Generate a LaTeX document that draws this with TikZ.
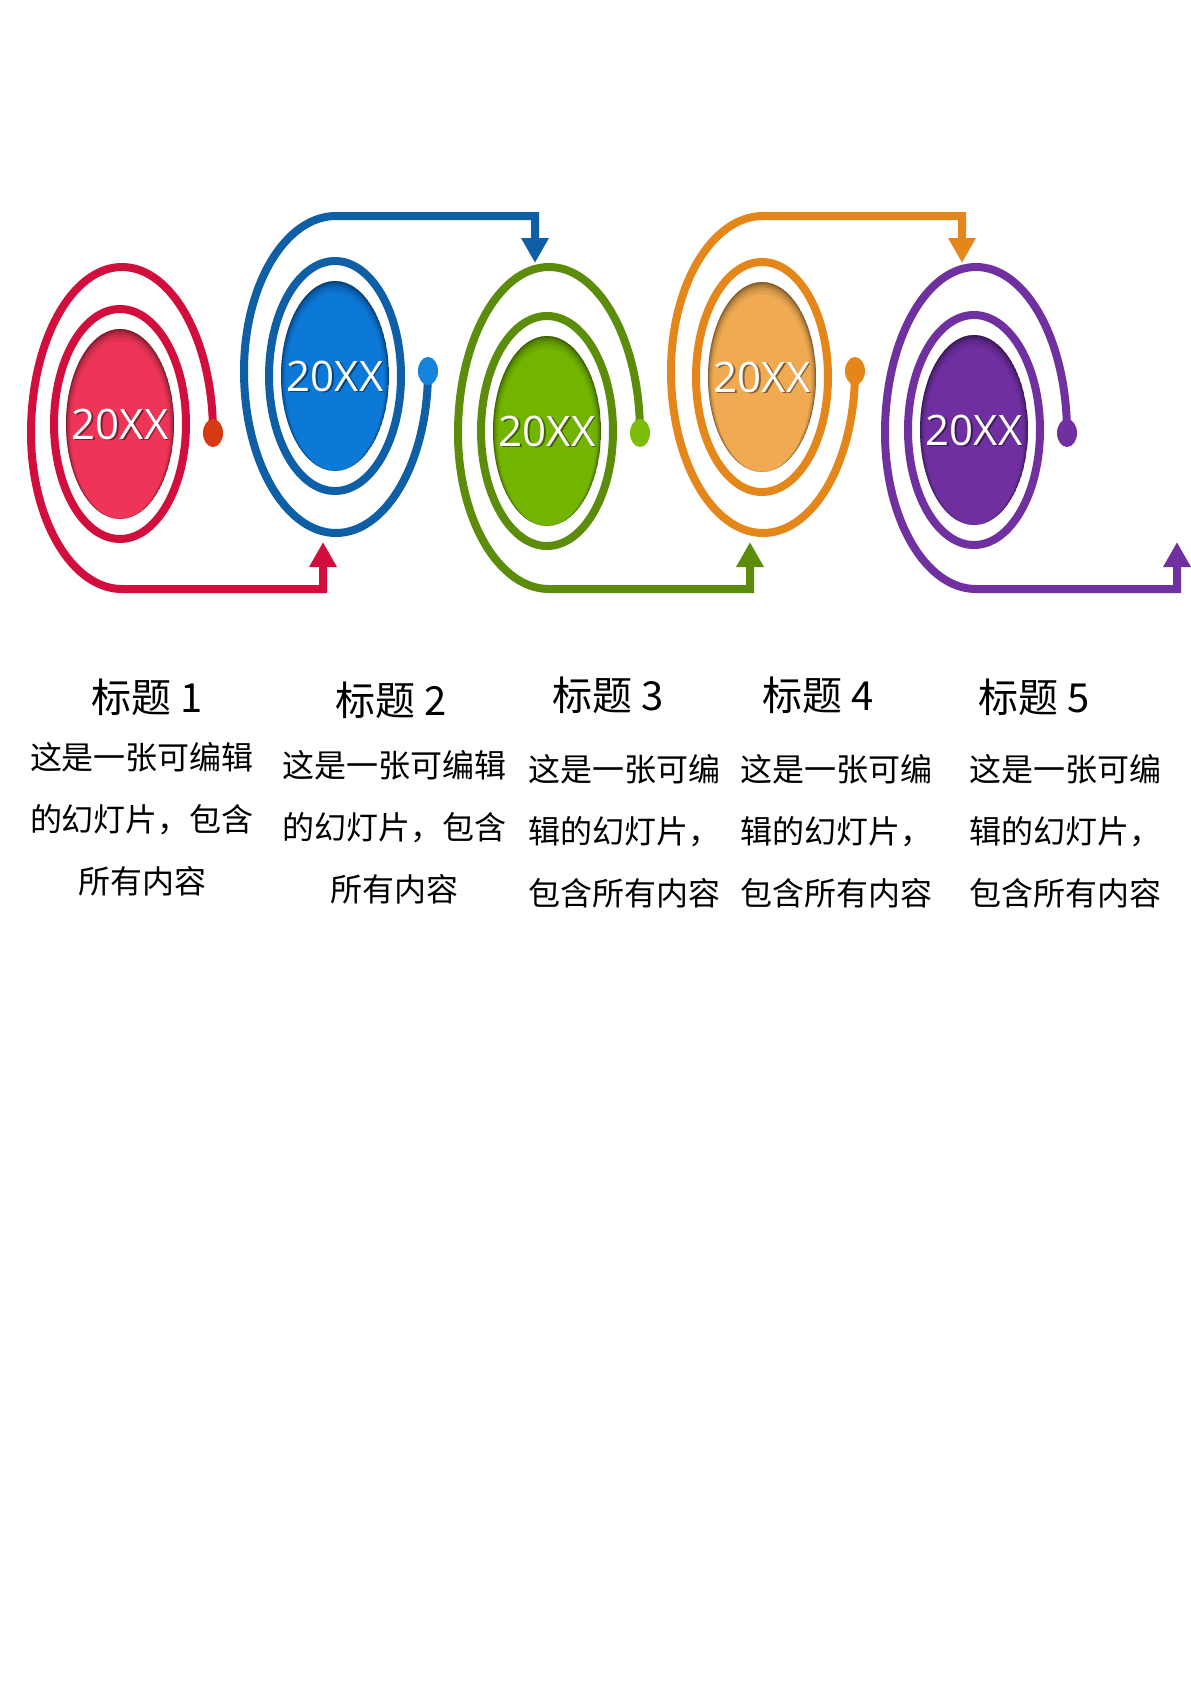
\documentclass[tikz,border=0pt]{standalone}
\usepackage{fontspec}
\newfontfamily\cjk{Noto Sans CJK SC}
\newfontfamily\osans{Open Sans}
\usetikzlibrary{arrows.meta}
\definecolor{rRing}{HTML}{D20F3C}
\definecolor{rFill}{HTML}{EE3558}
\definecolor{rDot}{HTML}{D63A12}
\definecolor{bRing}{HTML}{0E5FA6}
\definecolor{bFill}{HTML}{0C79D9}
\definecolor{bDot}{HTML}{1583DB}
\definecolor{gRing}{HTML}{5B8C0A}
\definecolor{gFill}{HTML}{72B400}
\definecolor{gDot}{HTML}{7DBE0A}
\definecolor{oRing}{HTML}{E5861A}
\definecolor{oFill}{HTML}{F0AA52}
\definecolor{oDot}{HTML}{E5861A}
\definecolor{pRing}{HTML}{7030A0}
\definecolor{pFill}{HTML}{6F2FA0}
\definecolor{pDot}{HTML}{7030A0}
\tikzset{
  ring/.style={line width=8pt},
  tipstyle/.style={-{Triangle[width=26pt,length=25pt]}},
  year/.style={font=\osans\fontsize{42pt}{48pt}\selectfont, inner sep=0, text=white},
  yearshadow/.style={font=\osans\fontsize{42pt}{48pt}\selectfont, inner sep=0, text=black, opacity=0.45},
  head/.style={font=\cjk\fontsize{40pt}{48pt}\selectfont, inner sep=0},
  body/.style={font=\cjk\fontsize{32pt}{62pt}\selectfont, inner sep=0}
}
\newcommand{\fillell}[4]{%
  \begin{scope}
    \clip (#2,-#3) ellipse [x radius=54pt, y radius=95pt];
    \fill[#4] (#2,-#3) ellipse [x radius=54pt, y radius=95pt];
    \foreach \k/\o in {10/0.06,7/0.08,4.5/0.11,2.5/0.14,1/0.18}{
      \fill[black,opacity=\o,even odd rule] ({#2-70},{-#3-110}) rectangle ({#2+70},{-#3+110})
        (#2,{-#3-0.6*\k}) ellipse [x radius={54pt-0.5*\k pt}, y radius={95pt-0.6*\k pt}];
    }
  \end{scope}
  \node[yearshadow] at ({#2+1.5},{-#3-1.5}) {20XX};
  \node[year] (#1) at (#2,-#3) {20XX};
}
\newcommand{\downmod}[6]{%
  \draw[ring,#4] (#2,-#3) ellipse [x radius=66pt, y radius=115pt];
  \coordinate (#1dot) at ({#2+93},-433);
  \coordinate (#1tip) at ({#2+203},-542);
  \draw[ring,#4,tipstyle] (#1dot) arc[start angle=0,end angle=180,x radius=91pt,y radius=166pt]
    arc[start angle=180,end angle=270,x radius=91pt,y radius=156pt] -- ({#2+203},-589) -- (#1tip);
  \fill[#6] (#1dot) ellipse [x radius=10pt, y radius=14pt];
  \fillell{#1}{#2}{#3}{#5}
}
\newcommand{\upmod}[6]{%
  \draw[ring,#4] (#2,-#3) ellipse [x radius=66pt, y radius=115pt];
  \coordinate (#1dot) at ({#2+93},-371);
  \coordinate (#1tip) at ({#2+200},-263);
  \draw[ring,#4,tipstyle] (#1dot) arc[start angle=0,end angle=-180,x radius=92pt,y radius=162pt]
    arc[start angle=180,end angle=90,x radius=92pt,y radius=155pt] -- ({#2+200},-216) -- (#1tip);
  \fill[#6] (#1dot) ellipse [x radius=10pt, y radius=14pt];
  \fillell{#1}{#2}{#3}{#5}
}
\begin{document}
\begin{tikzpicture}[x=1pt,y=1pt]
\useasboundingbox (0,0) rectangle (1191,-1684);
\fill[white] (0,0) rectangle (1191,-1684);

\downmod{m1}{120}{424}{rRing}{rFill}{rDot}
\upmod{m2}{335}{376}{bRing}{bFill}{bDot}
\downmod{m3}{547}{431}{gRing}{gFill}{gDot}
\upmod{m4}{762}{377}{oRing}{oFill}{oDot}
\downmod{m5}{974}{430}{pRing}{pFill}{pDot}

\node[head] (h1) at (147,-697) {标题 1};
\node[head] (h2) at (391,-700) {标题 2};
\node[head] (h3) at (608,-695) {标题 3};
\node[head] (h4) at (818,-695) {标题 4};
\node[head] (h5) at (1034,-697) {标题 5};

\node[body,align=center] (b1) at (142,-819) {这是一张可编辑\\的幻灯片，包含\\所有内容};
\node[body,align=center] (b2) at (394,-827) {这是一张可编辑\\的幻灯片，包含\\所有内容};
\node[body,align=left,anchor=west] (b3) at (528,-831) {这是一张可编\\辑的幻灯片，\\包含所有内容};
\node[body,align=left,anchor=west] (b4) at (740,-831) {这是一张可编\\辑的幻灯片，\\包含所有内容};
\node[body,align=left,anchor=west] (b5) at (969,-831) {这是一张可编\\辑的幻灯片，\\包含所有内容};
\end{tikzpicture}
\end{document}
